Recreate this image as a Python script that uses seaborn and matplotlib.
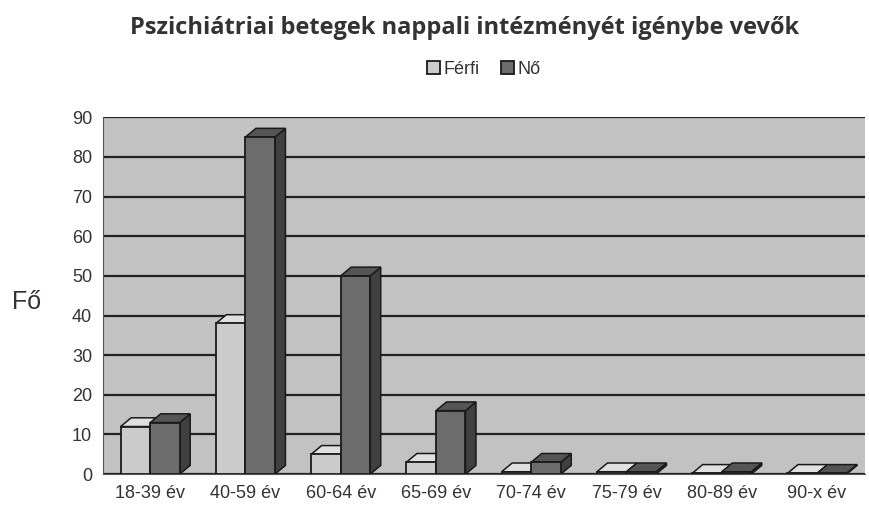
import pandas as pd
import seaborn as sns
import matplotlib.pyplot as plt
from matplotlib.patches import Polygon

# Age groups and counts per sex
categories = ["18-39 év", "40-59 év", "60-64 év", "65-69 év",
              "70-74 év", "75-79 év", "80-89 év", "90-x év"]
ferfi = [12, 38, 5, 3, 0.6, 0.6, 0.2, 0.2]
no = [13, 85, 50, 16, 3, 0.6, 0.6, 0.2]

df = pd.DataFrame({
    "Korcsoport": categories * 2,
    "Fő": ferfi + no,
    "Nem": ["Férfi"] * len(categories) + ["Nő"] * len(categories),
})

sns.set_style("white")
plt.rcParams["font.family"] = ["Liberation Sans", "DejaVu Sans"]

fig = plt.figure(figsize=(8.69, 5.12), dpi=100)
ax = fig.add_axes([0.118, 0.074, 0.877, 0.697])
ax.set_facecolor("#c2c2c2")

colors = {"Férfi": "#cbcbcb", "Nő": "#6c6c6c"}
sns.barplot(data=df, x="Korcsoport", y="Fő", hue="Nem", palette=colors,
            width=0.62, edgecolor="#1a1a1a", linewidth=1.3, ax=ax, zorder=3)

# fake 3D depth on each bar (top and right side faces), drawn behind the fronts
dx, dy = 0.11, 2.2
side = {"#cbcbcb": ("#e0e0e0", "#9a9a9a"), "#6c6c6c": ("#555555", "#404040")}
for bar in list(ax.patches):
    w = bar.get_width()
    if w == 0 or w > 1:
        continue
    x0, h = bar.get_x(), bar.get_height()
    fc = "#%02x%02x%02x" % tuple(int(round(c * 255)) for c in bar.get_facecolor()[:3])
    top_c, side_c = side.get(fc, ("#aaaaaa", "#777777"))
    top = Polygon([(x0, h), (x0 + dx, h + dy), (x0 + w + dx, h + dy), (x0 + w, h)],
                  closed=True, fc=top_c, ec="#1a1a1a", lw=1.1, zorder=2.6)
    rs = Polygon([(x0 + w, 0), (x0 + w + dx, dy), (x0 + w + dx, h + dy), (x0 + w, h)],
                 closed=True, fc=side_c, ec="#1a1a1a", lw=1.1, zorder=2.5)
    ax.add_patch(top)
    ax.add_patch(rs)

ax.set_ylim(0, 90)
ax.set_yticks(range(0, 91, 10))
ax.yaxis.grid(True, color="#222222", linewidth=1.6, zorder=0)
ax.set_axisbelow(True)
for s in ["top", "right"]:
    ax.spines[s].set_visible(False)
ax.spines["left"].set_color("#555555")
ax.spines["bottom"].set_color("#555555")
ax.tick_params(axis="both", labelsize=13, colors="#333333", length=4, direction="out")
ax.tick_params(axis="x", length=0, pad=8)

ax.set_xlabel("")
ax.set_ylabel("Fő", rotation=0, fontsize=18, color="#333333", labelpad=30)
ax.yaxis.set_label_coords(-0.1, 0.45)

fig.text(0.535, 0.945, "Pszichiátriai betegek nappali intézményét igénybe vevők",
         ha="center", va="center", fontsize=17, fontweight="bold",
         color="#333333", family=["Open Sans", "DejaVu Sans"])

handles, labels = ax.get_legend_handles_labels()
ax.legend(handles, labels, loc="center", bbox_to_anchor=(0.5, 1.135),
          ncol=2, frameon=False, fontsize=13, handlelength=0.7,
          handleheight=0.7, handletextpad=0.2, columnspacing=1.2,
          labelcolor="#333333")

plt.savefig("out.png", dpi=100)
